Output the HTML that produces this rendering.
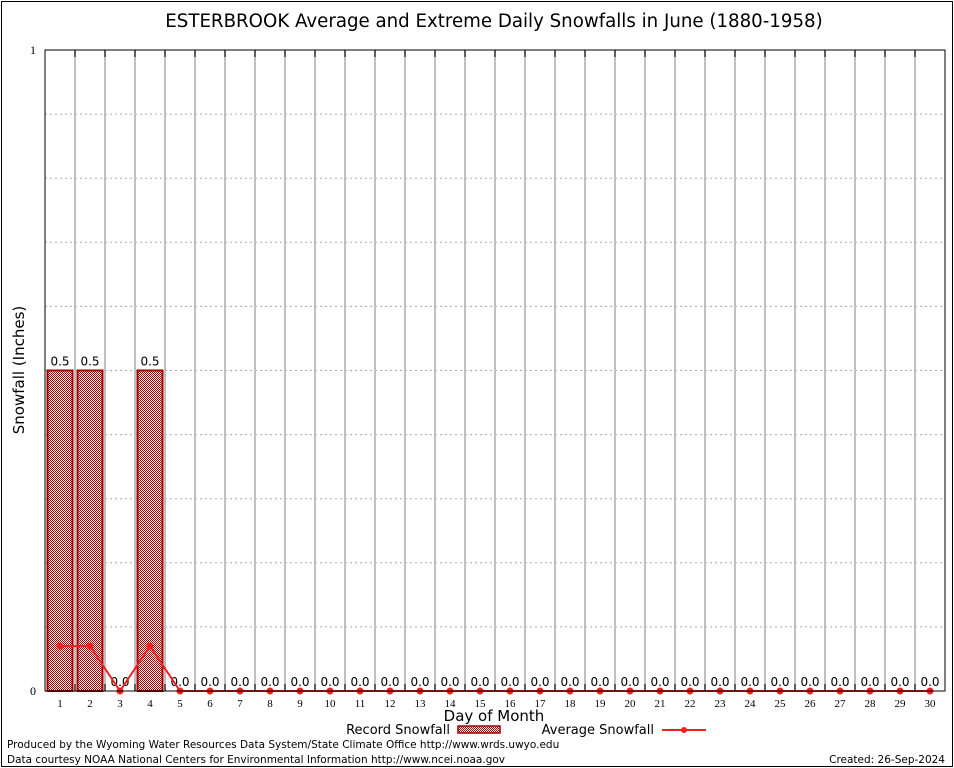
<!DOCTYPE html>
<html><head><meta charset="utf-8"><style>
body{margin:0;background:#fff;}
svg{display:block;font-family:"DejaVu Sans","Liberation Sans",sans-serif;}
</style></head><body>
<svg id="chart" width="954" height="768" viewBox="0 0 954 768">
<defs>
<pattern id="pat" width="2" height="2" patternUnits="userSpaceOnUse">
<rect width="2" height="2" fill="#fff"/>
<rect width="1" height="1" fill="#b00000"/><rect x="1" y="1" width="1" height="1" fill="#b00000"/>
</pattern>
</defs>
<rect x="1.5" y="1.5" width="951" height="765" fill="none" stroke="#000"/>
<text x="494" y="27" font-size="18.2" text-anchor="middle">ESTERBROOK Average and Extreme Daily Snowfalls in June (1880-1958)</text>
<g id="grid"></g>
<g id="bars"></g>
<g id="line"></g>
<rect x="45" y="50" width="900" height="641" fill="none" stroke="#000"/>
<g id="axes"></g>
<text x="24" y="370" font-size="15" text-anchor="middle" transform="rotate(-90 24 370)">Snowfall (Inches)</text>
<text x="494" y="721" font-size="15" text-anchor="middle">Day of Month</text>
<g>
<text x="450" y="734" font-size="13" text-anchor="end">Record Snowfall</text>
<rect x="458" y="726" width="42" height="7" fill="url(#pat)" stroke="#a00000" stroke-width="1.5"/>
</g>
<g>
<text x="654" y="734" font-size="13" text-anchor="end">Average Snowfall</text>
<line x1="662" y1="730" x2="706" y2="730" stroke="#f02020" stroke-width="2"/>
<circle cx="684" cy="730" r="3" fill="#f02020"/>
</g>
<text x="7" y="748" font-size="10.5">Produced by the Wyoming Water Resources Data System/State Climate Office http://www.wrds.uwyo.edu</text>
<text x="7" y="763" font-size="10.5">Data courtesy NOAA National Centers for Environmental Information http://www.ncei.noaa.gov</text>
<text x="945" y="763" font-size="10.5" text-anchor="end">Created: 26-Sep-2024</text>
</svg>
<script>
const days=[1,2,3,4,5,6,7,8,9,10,11,12,13,14,15,16,17,18,19,20,21,22,23,24,25,26,27,28,29,30];
const recordSnow=[0.5,0.5,0,0.5,0,0,0,0,0,0,0,0,0,0,0,0,0,0,0,0,0,0,0,0,0,0,0,0,0,0];
const avgSnow=[0.07,0.07,0,0.07,0,0,0,0,0,0,0,0,0,0,0,0,0,0,0,0,0,0,0,0,0,0,0,0,0,0];
const yTicks=[0,1];
const NS="http://www.w3.org/2000/svg";
const L=45,R=945,T=50,B=691,yMax=1;
const xs=d=>L+(d-0.5)*(R-L)/days.length;
const ys=v=>B-v/yMax*(B-T);
function mk(tag,attrs,parent,text){const e=document.createElementNS(NS,tag);for(const k in attrs)e.setAttribute(k,attrs[k]);if(text!==undefined)e.textContent=text;document.getElementById(parent).appendChild(e);return e;}
for(let i=1;i<10;i++){const e=mk('line',{x1:L,x2:R,y1:ys(i/10),y2:ys(i/10),stroke:'#aaa','stroke-dasharray':'2,3','stroke-width':1},'grid');

}
for(let i=1;i<days.length;i++){const x=L+i*(R-L)/days.length;const e=mk('line',{x1:x,x2:x,y1:T,y2:B,stroke:'#c0c0c0','stroke-width':2},'grid');


mk('line',{x1:x,x2:x,y1:T,y2:T+7,stroke:'#000'},'axes');mk('line',{x1:x,x2:x,y1:B,y2:B-7,stroke:'#000'},'axes');}
days.forEach((d,i)=>{const v=recordSnow[i];const cx=xs(d);
if(v>0){const r=mk('rect',{x:cx-12.5,y:ys(v),width:25,height:B-ys(v),fill:'url(#pat)',stroke:'#a00000','stroke-width':2},'bars');

}
const t=mk('text',{x:cx,y:ys(v)-5,'font-size':12,'text-anchor':'middle'},'bars',v.toFixed(1));


const lt=mk('text',{x:cx,y:B+16,'font-size':11,'text-anchor':'middle','font-family':'Liberation Serif,serif'},'axes',String(d));

});
const pts=days.map((d,i)=>xs(d)+','+ys(avgSnow[i])).join(' ');
const pl=mk('polyline',{points:pts,fill:'none',stroke:'#f02020','stroke-width':2},'line');


days.forEach((d,i)=>{const c=mk('circle',{cx:xs(d),cy:ys(avgSnow[i]),r:3.5,fill:'#f02020'},'line');

});
yTicks.forEach(v=>{const t=mk('text',{x:L-9,y:ys(v)+4,'font-size':12,'text-anchor':'end','font-family':'Liberation Serif,serif'},'axes',String(v));

});
</script>
</body></html>
